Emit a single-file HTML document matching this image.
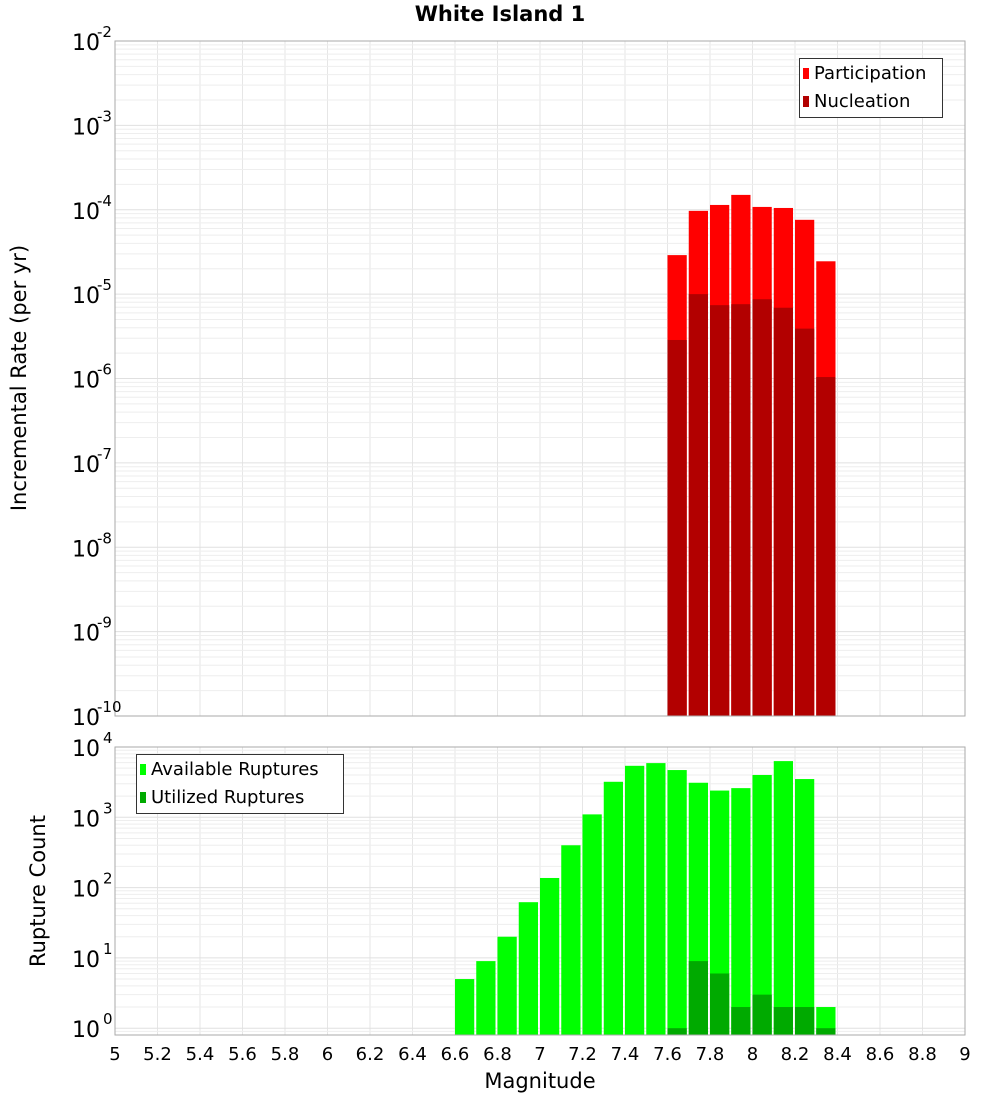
<!DOCTYPE html>
<html><head><meta charset="utf-8"><style>
body{margin:0;background:#fff;}
svg{display:block;font-family:"DejaVu Sans","Liberation Sans",sans-serif;}
</style></head><body>
<svg id="c" width="1000" height="1100" xmlns="http://www.w3.org/2000/svg"></svg>
<script>
const mags = [6.6,6.7,6.8,6.9,7.0,7.1,7.2,7.3,7.4,7.5,7.6,7.7,7.8,7.9,8.0,8.1,8.2,8.3];
const participation = [0,0,0,0,0,0,0,0,0,0,2.9e-5,9.7e-5,1.14e-4,1.5e-4,1.08e-4,1.05e-4,7.6e-5,2.45e-5];
const nucleation = [0,0,0,0,0,0,0,0,0,0,2.86e-6,1.0e-5,7.4e-6,7.6e-6,8.7e-6,6.9e-6,3.9e-6,1.04e-6];
const available = [5,9,20,62,137,400,1100,3200,5400,5900,4700,3100,2400,2600,4000,6300,3500,2];
const utilized = [0,0,0,0,0,0,0,0,0,0,1,9,6,2,3,2,2,1];
const xTicks = ["5","5.2","5.4","5.6","5.8","6","6.2","6.4","6.6","6.8","7","7.2","7.4","7.6","7.8","8","8.2","8.4","8.6","8.8","9"];
const topExps = [-2,-3,-4,-5,-6,-7,-8,-9,-10];
const botExps = [4,3,2,1,0];

const NS="http://www.w3.org/2000/svg";
const svg=document.getElementById('c');
function mk(tag,attrs,parent){const e=document.createElementNS(NS,tag);for(const k in attrs)e.setAttribute(k,attrs[k]);(parent||svg).appendChild(e);return e;}
const L=115,R=965;
const xs=m=>L+(m-5)/4*(R-L);
// top panel
const T1=41,B1=716;
const yTop=v=>T1+(-2-Math.log10(v))*(B1-T1)/8;
// bottom panel
const T2=747,B2=1035,bMin=Math.log10(0.8),bMax=4;
const yBot=v=>B2-(Math.log10(v)-bMin)*(B2-T2)/(bMax-bMin);

function grid(T,B,yf,loE,hiE,name){
  const g=mk('g',{});
  
  
  for(let i=0;i<=20;i++){const x=xs(5+i*0.2);mk('line',{x1:x,x2:x,y1:T,y2:B,stroke:'#e6e6e6','stroke-width':1},g);}
  for(let e=loE;e<hiE;e++)for(let k=1;k<10;k++){const y=yf(k*Math.pow(10,e));if(y<T||y>B)continue;mk('line',{x1:L,x2:R,y1:y,y2:y,stroke:k==1?'#e0e0e0':'#eeeeee','stroke-width':1},g);}
}
grid(T1,B1,yTop,-10,-2,'top-grid');
grid(T2,B2,yBot,-1,4,'bottom-grid');

const bw=(R-L)/40;
// top bars
mags.forEach((m,i)=>{
  if(participation[i]>0){const y=yTop(participation[i]);const r=mk('rect',{x:xs(m),y:y,width:bw-2,height:B1-y,fill:'#ff0000'});
    
    }
  if(nucleation[i]>0){const y=yTop(nucleation[i]);const r=mk('rect',{x:xs(m),y:y,width:bw-2,height:B1-y,fill:'#b20000'});
    
    }
  if(available[i]>0){const y=yBot(available[i]);const r=mk('rect',{x:xs(m),y:y,width:bw-2,height:B2-y,fill:'#00ff00'});
    
    }
  if(utilized[i]>0){const y=yBot(utilized[i]);const r=mk('rect',{x:xs(m),y:y,width:bw-2,height:B2-y,fill:'#00aa00'});
    
    }
});
mk('rect',{x:L,y:T1,width:R-L,height:B1-T1,fill:'none',stroke:'#aaaaaa'});
mk('rect',{x:L,y:T2,width:R-L,height:B2-T2,fill:'none',stroke:'#aaaaaa'});

// y tick labels
topExps.forEach(e=>{const y=yTop(Math.pow(10,e));
  const t=mk('text',{x:72,y:y+9,'font-size':22});t.textContent='10';
  
  
  const s=mk('text',{x:97,y:y-4,'font-size':15});s.textContent=String(e);
  
  });
botExps.forEach(e=>{const y=yBot(Math.pow(10,e));
  const t=mk('text',{x:72,y:y+9,'font-size':22});t.textContent='10';
  
  
  const s=mk('text',{x:103,y:y-4,'font-size':15});s.textContent=String(e);
  
  });
xTicks.forEach(t=>{const x=xs(parseFloat(t));const e=mk('text',{x:x,y:1060,'font-size':18,'text-anchor':'middle'});e.textContent=t;
  
  });
</script>
<svg width="0" height="0"></svg>
<div style="position:absolute;left:0;top:0;width:1000px;height:1100px;pointer-events:none;font-family:'DejaVu Sans','Liberation Sans',sans-serif;">
  <div style="position:absolute;left:0;width:1000px;top:2px;text-align:center;font-weight:bold;font-size:21px;">White Island 1</div>
  <div style="position:absolute;left:19px;top:378px;transform:translate(-50%,-50%) rotate(-90deg);font-size:21px;white-space:nowrap;">Incremental Rate (per yr)</div>
  <div style="position:absolute;left:38px;top:891px;transform:translate(-50%,-50%) rotate(-90deg);font-size:21px;white-space:nowrap;">Rupture Count</div>
  <div style="position:absolute;left:0;width:1080px;top:1069px;text-align:center;font-size:21px;">Magnitude</div>
  <div style="position:absolute;left:799px;top:58px;width:142px;height:58px;border:1px solid #333;background:#fff;font-size:18px;">
    <div style="position:absolute;left:3px;top:4px;white-space:nowrap;"><span style="display:inline-block;width:6px;height:11px;background:#ff0000;margin-right:5px;"></span>Participation</div>
    <div style="position:absolute;left:3px;top:32px;white-space:nowrap;"><span style="display:inline-block;width:6px;height:11px;background:#b20000;margin-right:5px;"></span>Nucleation</div>
  </div>
  <div style="position:absolute;left:136px;top:754px;width:206px;height:58px;border:1px solid #333;background:#fff;font-size:18px;">
    <div style="position:absolute;left:3px;top:4px;white-space:nowrap;"><span style="display:inline-block;width:6px;height:11px;background:#00ff00;margin-right:5px;"></span>Available Ruptures</div>
    <div style="position:absolute;left:3px;top:32px;white-space:nowrap;"><span style="display:inline-block;width:6px;height:11px;background:#00aa00;margin-right:5px;"></span>Utilized Ruptures</div>
  </div>
</div>
</body></html>
